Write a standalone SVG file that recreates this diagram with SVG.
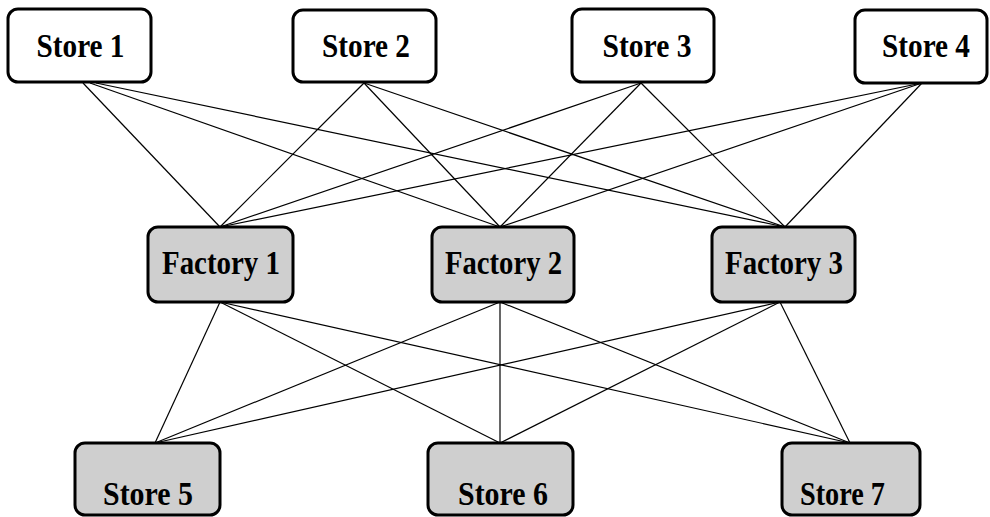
<svg xmlns="http://www.w3.org/2000/svg" width="990" height="517" viewBox="0 0 990 517">
<style>
.box{stroke:#000;stroke-width:3;}
.plain{fill:#fff;}
.shaded{fill:#cfcfcf;}
.lbl{font-family:"Liberation Serif","Times New Roman",serif;font-weight:bold;font-size:33px;text-anchor:middle;fill:#000;}
.edge{stroke:#000;stroke-width:1.2;fill:none;}
</style>
<rect width="990" height="517" fill="#fff"/>
<g id="connectors">
<line class="edge" x1="83" y1="83" x2="220" y2="227"/>
<line class="edge" x1="90" y1="83" x2="500" y2="227"/>
<line class="edge" x1="96" y1="83" x2="785" y2="227"/>
<line class="edge" x1="364" y1="83" x2="220" y2="227"/>
<line class="edge" x1="364" y1="83" x2="500" y2="227"/>
<line class="edge" x1="364" y1="83" x2="785" y2="227"/>
<line class="edge" x1="641" y1="83" x2="220" y2="227"/>
<line class="edge" x1="641" y1="83" x2="500" y2="227"/>
<line class="edge" x1="641" y1="83" x2="785" y2="227"/>
<line class="edge" x1="922" y1="83" x2="220" y2="227"/>
<line class="edge" x1="922" y1="83" x2="500" y2="227"/>
<line class="edge" x1="922" y1="83" x2="785" y2="227"/>
<line class="edge" x1="220" y1="302" x2="155" y2="443"/>
<line class="edge" x1="220" y1="302" x2="500" y2="443"/>
<line class="edge" x1="220" y1="302" x2="850" y2="443"/>
<line class="edge" x1="500" y1="302" x2="155" y2="443"/>
<line class="edge" x1="500" y1="302" x2="500" y2="443"/>
<line class="edge" x1="500" y1="302" x2="850" y2="443"/>
<line class="edge" x1="780" y1="302" x2="155" y2="443"/>
<line class="edge" x1="780" y1="302" x2="500" y2="443"/>
<line class="edge" x1="780" y1="302" x2="850" y2="443"/>
</g>
<g id="store1"><rect class="box plain" x="8" y="9" width="143" height="73" rx="10"/><text class="lbl" x="80.5" y="57" textLength="88" lengthAdjust="spacingAndGlyphs">Store 1</text></g>
<g id="store2"><rect class="box plain" x="293" y="10" width="143" height="72" rx="10"/><text class="lbl" x="366" y="57" textLength="88" lengthAdjust="spacingAndGlyphs">Store 2</text></g>
<g id="store3"><rect class="box plain" x="572" y="9" width="142" height="73" rx="10"/><text class="lbl" x="647" y="57" textLength="89" lengthAdjust="spacingAndGlyphs">Store 3</text></g>
<g id="store4"><rect class="box plain" x="855" y="10" width="132" height="73" rx="10"/><text class="lbl" x="926" y="57" textLength="88" lengthAdjust="spacingAndGlyphs">Store 4</text></g>
<g id="factory1"><rect class="box shaded" x="148" y="227" width="145" height="75" rx="10"/><text class="lbl" x="221" y="274" textLength="118" lengthAdjust="spacingAndGlyphs">Factory 1</text></g>
<g id="factory2"><rect class="box shaded" x="432" y="227" width="142" height="75" rx="10"/><text class="lbl" x="503.5" y="274" textLength="117" lengthAdjust="spacingAndGlyphs">Factory 2</text></g>
<g id="factory3"><rect class="box shaded" x="712" y="227" width="143" height="75" rx="10"/><text class="lbl" x="784" y="274" textLength="118" lengthAdjust="spacingAndGlyphs">Factory 3</text></g>
<g id="store5"><rect class="box shaded" x="75" y="443" width="145" height="72" rx="10"/><text class="lbl" x="148" y="505" textLength="90" lengthAdjust="spacingAndGlyphs">Store 5</text></g>
<g id="store6"><rect class="box shaded" x="428" y="443" width="145" height="72" rx="10"/><text class="lbl" x="503" y="505" textLength="90" lengthAdjust="spacingAndGlyphs">Store 6</text></g>
<g id="store7"><rect class="box shaded" x="782" y="443" width="138" height="72" rx="10"/><text class="lbl" x="842.5" y="505" textLength="85" lengthAdjust="spacingAndGlyphs">Store 7</text></g>
</svg>
